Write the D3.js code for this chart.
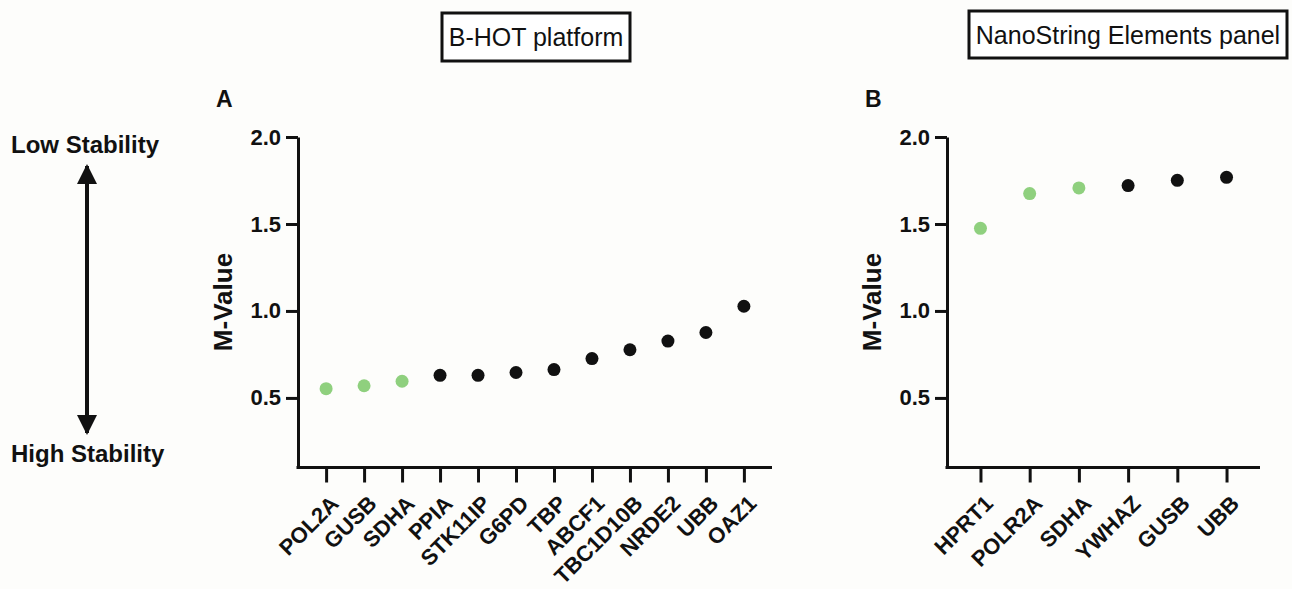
<!DOCTYPE html>
<meta charset="utf-8">
<script src="https://d3js.org/d3.v7.min.js"></script>
<style>
  body { margin: 0; background: #fdfdfb; }
  text { font-family: "Liberation Sans", Arial, sans-serif; fill: #111; }
</style>
<div id="my_dataviz"></div>
<script>

// data: panel A (B-HOT platform)
const genesA = ["POL2A", "GUSB", "SDHA", "PPIA", "STK11IP", "G6PD", "TBP", "ABCF1", "TBC1D10B", "NRDE2", "UBB", "OAZ1"];
const mValuesA = [0.553, 0.570, 0.596, 0.630, 0.630, 0.646, 0.663, 0.726, 0.777, 0.827, 0.876, 1.027];
const stableA = ["POL2A", "GUSB", "SDHA"];

// data: panel B (NanoString Elements panel)
const genesB = ["HPRT1", "POLR2A", "SDHA", "YWHAZ", "GUSB", "UBB"];
const mValuesB = [1.475, 1.675, 1.707, 1.721, 1.751, 1.768];
const stableB = ["HPRT1", "POLR2A", "SDHA"];

const yTicks = [0.5, 1.0, 1.5, 2.0];

const width = 1292, height = 589;
const green = "#8fd07e", black = "#111";

const svg = d3.select("#my_dataviz")
  .append("svg")
    .attr("width", width)
    .attr("height", height)
    .style("display", "block");

svg.append("rect").attr("width", width).attr("height", height).attr("fill", "#fdfdfb");

// shared y scale
const y = d3.scaleLinear()
  .domain([0.1, 2.0])
  .range([467.5, 137]);

function drawPanel(genes, values, stable, left, right, padding, letter, title, box) {
  const g = svg.append("g");

  const x = d3.scalePoint()
    .domain(genes)
    .range([left, right])
    .padding(padding);

  // y axis
  const ya = g.append("g")
    .attr("transform", `translate(${left},0)`)
    .call(d3.axisLeft(y).tickValues(yTicks).tickFormat(d3.format(".1f")).tickSize(12).tickSizeOuter(0));
  ya.select(".domain").attr("stroke-width", 3).attr("stroke", black);
  ya.selectAll(".tick line").attr("stroke-width", 3).attr("stroke", black);
  ya.selectAll(".tick text")
    .attr("x", -17)
    .style("font-size", "22px")
    .style("font-weight", "bold")
    .attr("fill", black);

  // x axis
  const xa = g.append("g")
    .attr("transform", `translate(0,${y(0.1)})`)
    .call(d3.axisBottom(x).tickSize(15).tickSizeOuter(0));
  xa.select(".domain").attr("stroke-width", 3).attr("stroke", black)
    .attr("d", `M${left - 1.5},0H${right}`);
  xa.selectAll(".tick line").attr("stroke-width", 3).attr("stroke", black);
  xa.selectAll(".tick text")
    .attr("y", 0)
    .attr("dy", "0.35em")
    .attr("transform", "translate(8,32) rotate(-45)")
    .style("text-anchor", "end")
    .style("font-size", "22px")
    .style("font-weight", "bold")
    .attr("fill", black);

  // y label
  g.append("text")
    .attr("transform", `translate(${left - 66},302) rotate(-90)`)
    .attr("text-anchor", "middle")
    .style("font-size", "26px")
    .style("font-weight", "bold")
    .text("M-Value");

  // panel letter
  g.append("text")
    .attr("x", left - 82)
    .attr("y", 107)
    .style("font-size", "23px")
    .style("font-weight", "bold")
    .text(letter);

  // title box
  g.append("rect")
    .attr("x", box[0]).attr("y", box[1])
    .attr("width", box[2]).attr("height", box[3])
    .attr("fill", "white")
    .attr("stroke", black)
    .attr("stroke-width", 3);
  g.append("text")
    .attr("x", box[0] + box[2] / 2)
    .attr("y", box[1] + box[3] / 2)
    .attr("dy", "0.36em")
    .attr("text-anchor", "middle")
    .style("font-size", "25px")
    .text(title);

  // points
  g.selectAll("circle")
    .data(genes.map((d, i) => ({gene: d, value: values[i]})))
    .join("circle")
      .attr("cx", d => x(d.gene))
      .attr("cy", d => y(d.value))
      .attr("r", 6.5)
      .attr("fill", d => stable.includes(d.gene) ? green : black);
}

drawPanel(genesA, mValuesA, stableA, 298, 772, 0.74, "A", "B-HOT platform", [442, 13, 188, 48]);
drawPanel(genesB, mValuesB, stableB, 947, 1260, 0.68, "B", "NanoString Elements panel", [969, 11, 318, 47]);

// stability arrow on the left
const defs = svg.append("defs");
defs.append("marker")
  .attr("id", "head")
  .attr("viewBox", "0 0 10 10")
  .attr("refX", 9).attr("refY", 5)
  .attr("markerWidth", 5).attr("markerHeight", 6.5)
  .attr("markerUnits", "strokeWidth")
  .attr("orient", "auto-start-reverse")
  .append("path")
    .attr("d", "M0,0L10,5L0,10Z")
    .attr("fill", black);

svg.append("line")
  .attr("x1", 87).attr("x2", 87)
  .attr("y1", 166).attr("y2", 433)
  .attr("stroke", black)
  .attr("stroke-width", 4)
  .attr("marker-start", "url(#head)")
  .attr("marker-end", "url(#head)");

svg.append("text")
  .attr("x", 11).attr("y", 153)
  .style("font-size", "24px")
  .style("font-weight", "bold")
  .text("Low Stability");

svg.append("text")
  .attr("x", 11).attr("y", 462)
  .style("font-size", "24px")
  .style("font-weight", "bold")
  .text("High Stability");

</script>
